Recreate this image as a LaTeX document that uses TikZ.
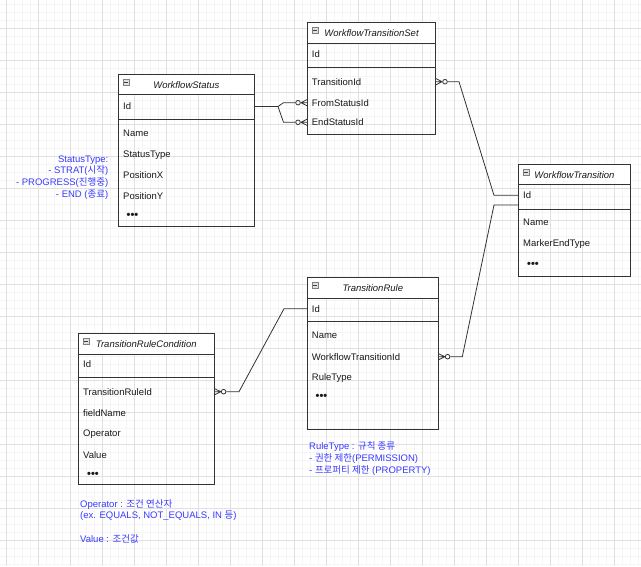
\documentclass[tikz,border=0pt]{standalone}
\usepackage{fontspec}
\setmainfont{Liberation Sans}
\newfontfamily\kr{Noto Sans CJK KR}
\usetikzlibrary{calc}
\definecolor{gridminor}{HTML}{F5F5F5}
\definecolor{gridmajor}{HTML}{E0E0E0}
\definecolor{boxc}{HTML}{333333}
\definecolor{notec}{HTML}{3A3AFF}
\tikzset{
  ebox/.style={draw=boxc, line width=0.9pt, inner sep=0, outer sep=0},
  hdr/.style={font=\fontsize{9.5}{11}\selectfont\itshape, inner sep=0, text=black!90},
  row/.style={font=\fontsize{9.5}{11}\selectfont, inner sep=0, anchor=west, text=black!90},
  dotsrow/.style={font=\fontsize{11}{12}\selectfont\bfseries, inner sep=0, anchor=west, text=black!90},
  icon/.style={draw=black!50, fill=black!12, minimum size=6pt, inner sep=0, line width=0.4pt},
  conn/.style={draw=boxc, line width=0.8pt},
  optc/.style={circle, draw=boxc, fill=white, line width=0.8pt, minimum size=4.6pt, inner sep=0},
  note/.style={text=notec, inner sep=0, font=\fontsize{9.5}{11.7}\selectfont}
}
% #1 name, #2 x1, #3 y1, #4 x2, #5 y2, #6 header bottom, #7 separator, #8 title
\newcommand\erbox[8]{%
  \fill[white] (#2,#3) rectangle (#4,#6);
  \node[ebox, anchor=north west, minimum width={(#4-#2)*1pt}, minimum height={(#5-#3)*1pt}] (#1) at (#2,#3) {};
  \draw[boxc, line width=0.9pt] (#2,#6) -- (#4,#6);
  \draw[boxc, line width=0.9pt] (#2,#7) -- (#4,#7);
  \node[hdr] (#1-t) at ({(#2+#4)/2},{(#3+#6)/2}) {#8};
  \node[icon] (#1-i) at ({#2+7.5},{#3+7.5}) {};
  \draw[black!75, line width=0.6pt] ($(#1-i.west)+(1.2,0)$) -- ($(#1-i.east)+(-1.2,0)$);
}
% #1 point on box, #2 direction (+1 right, -1 left), #3 prefix
\newcommand\manyopt[3]{%
  \coordinate (#3-cv) at ($(#1)+(#2*6.5,0)$);
  \draw[conn] (#3-cv) -- ($(#1)+(0,-3.2)$) (#3-cv) -- (#1) (#3-cv) -- ($(#1)+(0,3.2)$);
  \node[optc] (#3-c) at ($(#1)+(#2*9.3,0)$) {};
}
\begin{document}
\begin{tikzpicture}[x=1pt,y=-1pt]
\useasboundingbox (0,0) rectangle (641,566);
\fill[white] (0,0) rectangle (641,566);
% grid
\foreach \x in {6,14,...,638} \draw[gridminor, line width=0.6pt] (\x,0) -- (\x,566);
\foreach \y in {4,12,...,564} \draw[gridminor, line width=0.6pt] (0,\y) -- (641,\y);
\foreach \x in {6,38,...,630} \draw[gridmajor, line width=0.7pt] (\x,0) -- (\x,566);
\foreach \y in {28,60,...,540} \draw[gridmajor, line width=0.7pt] (0,\y) -- (641,\y);

% WorkflowStatus
\erbox{ws}{118.3}{74.5}{254.3}{226.3}{94.7}{119.3}{WorkflowStatus}
\node[row] (ws-id) at (123,106.5) {Id};
\node[row] (ws-name) at (123,133) {Name};
\node[row] (ws-st) at (123,154.7) {StatusType};
\node[row] (ws-px) at (123,174.7) {PositionX};
\node[row] (ws-py) at (123,195.7) {PositionY};
\node[dotsrow] (ws-d) at (126.5,216.2) {•••};

% WorkflowTransitionSet
\erbox{wts}{307.3}{22.3}{435.7}{134.3}{43.7}{67.3}{WorkflowTransitionSet}
\node[row] (wts-id) at (311.7,54.3) {Id};
\node[row] (wts-tid) at (311.7,81.7) {TransitionId};
\node[row] (wts-from) at (311.7,102.7) {FromStatusId};
\node[row] (wts-end) at (311.7,122.3) {EndStatusId};

% WorkflowTransition
\erbox{wt}{518.7}{164.7}{630.3}{276}{184.7}{209.3}{WorkflowTransition}
\node[row] (wt-id) at (523,195.3) {Id};
\node[row] (wt-name) at (523,222.7) {Name};
\node[row] (wt-met) at (523,243.7) {MarkerEndType};
\node[dotsrow] (wt-d) at (527,264.5) {•••};

% TransitionRule
\erbox{tr}{307.3}{277.3}{438.3}{429}{298}{321.7}{TransitionRule}
\node[row] (tr-id) at (311.7,308.7) {Id};
\node[row] (tr-name) at (311.7,335.7) {Name};
\node[row] (tr-wtid) at (311.7,356.7) {WorkflowTransitionId};
\node[row] (tr-rt) at (311.7,377.7) {RuleType};
\node[dotsrow] (tr-d) at (315.5,397.2) {•••};

% TransitionRuleCondition
\erbox{trc}{78.3}{333.3}{214.3}{484.7}{354}{377.7}{TransitionRuleCondition}
\node[row] (trc-id) at (83,364.3) {Id};
\node[row] (trc-trid) at (83,391.7) {TransitionRuleId};
\node[row] (trc-fn) at (83,412.7) {fieldName};
\node[row] (trc-op) at (83,433.7) {Operator};
\node[row] (trc-val) at (83,454.7) {Value};
\node[dotsrow] (trc-d) at (87,474.8) {•••};

% markers
\manyopt{wts.west |- wts-from}{-1}{e1}
\manyopt{wts.west |- wts-end}{-1}{e1b}
\manyopt{wts.east |- wts-tid}{1}{e2}
\manyopt{tr.east |- tr-wtid}{1}{e3}
\manyopt{trc.east |- trc-trid}{1}{e4}

% connectors
\coordinate (k1) at (278,106.5);
\draw[conn] (ws.east |- ws-id) -- (k1) -- (283.5,102.7) -- (e1-c);
\draw[conn] (ws.east |- ws-id) -- (k1) -- (283.5,122.3) -- (e1b-c);
\draw[conn] (e2-c) -- (459,81.7) -- (494,195.3) -- (wt.west |- wt-id);
\draw[conn] ($(wt.west |- wt-id)+(0,9.7)$) -- (494,205) -- (462.3,356.7) -- (e3-c);
\draw[conn] (tr.west |- tr-id) -- (284,308.7) -- (239,391.7) -- (e4-c);

% notes
\node[note, align=right, anchor=east] (n1) at (108.5,177.5)
  {StatusType:\\- STRAT({\kr 시작})\\- PROGRESS({\kr 진행중})\\- END ({\kr 종료})};
\node[note, align=left, anchor=west] (n2) at (309,458.5)
  {RuleType : {\kr 규칙 종류}\\- {\kr 권한 제한}(PERMISSION)\\- {\kr 프로퍼티 제한} (PROPERTY)};
\node[note, align=left, anchor=west] (n3) at (80,521)
  {Operator : {\kr 조건 연산자}\\(ex. EQUALS, NOT\_EQUALS, IN {\kr 등})\\[11.7pt]Value : {\kr 조건값}};
\end{tikzpicture}
\end{document}
